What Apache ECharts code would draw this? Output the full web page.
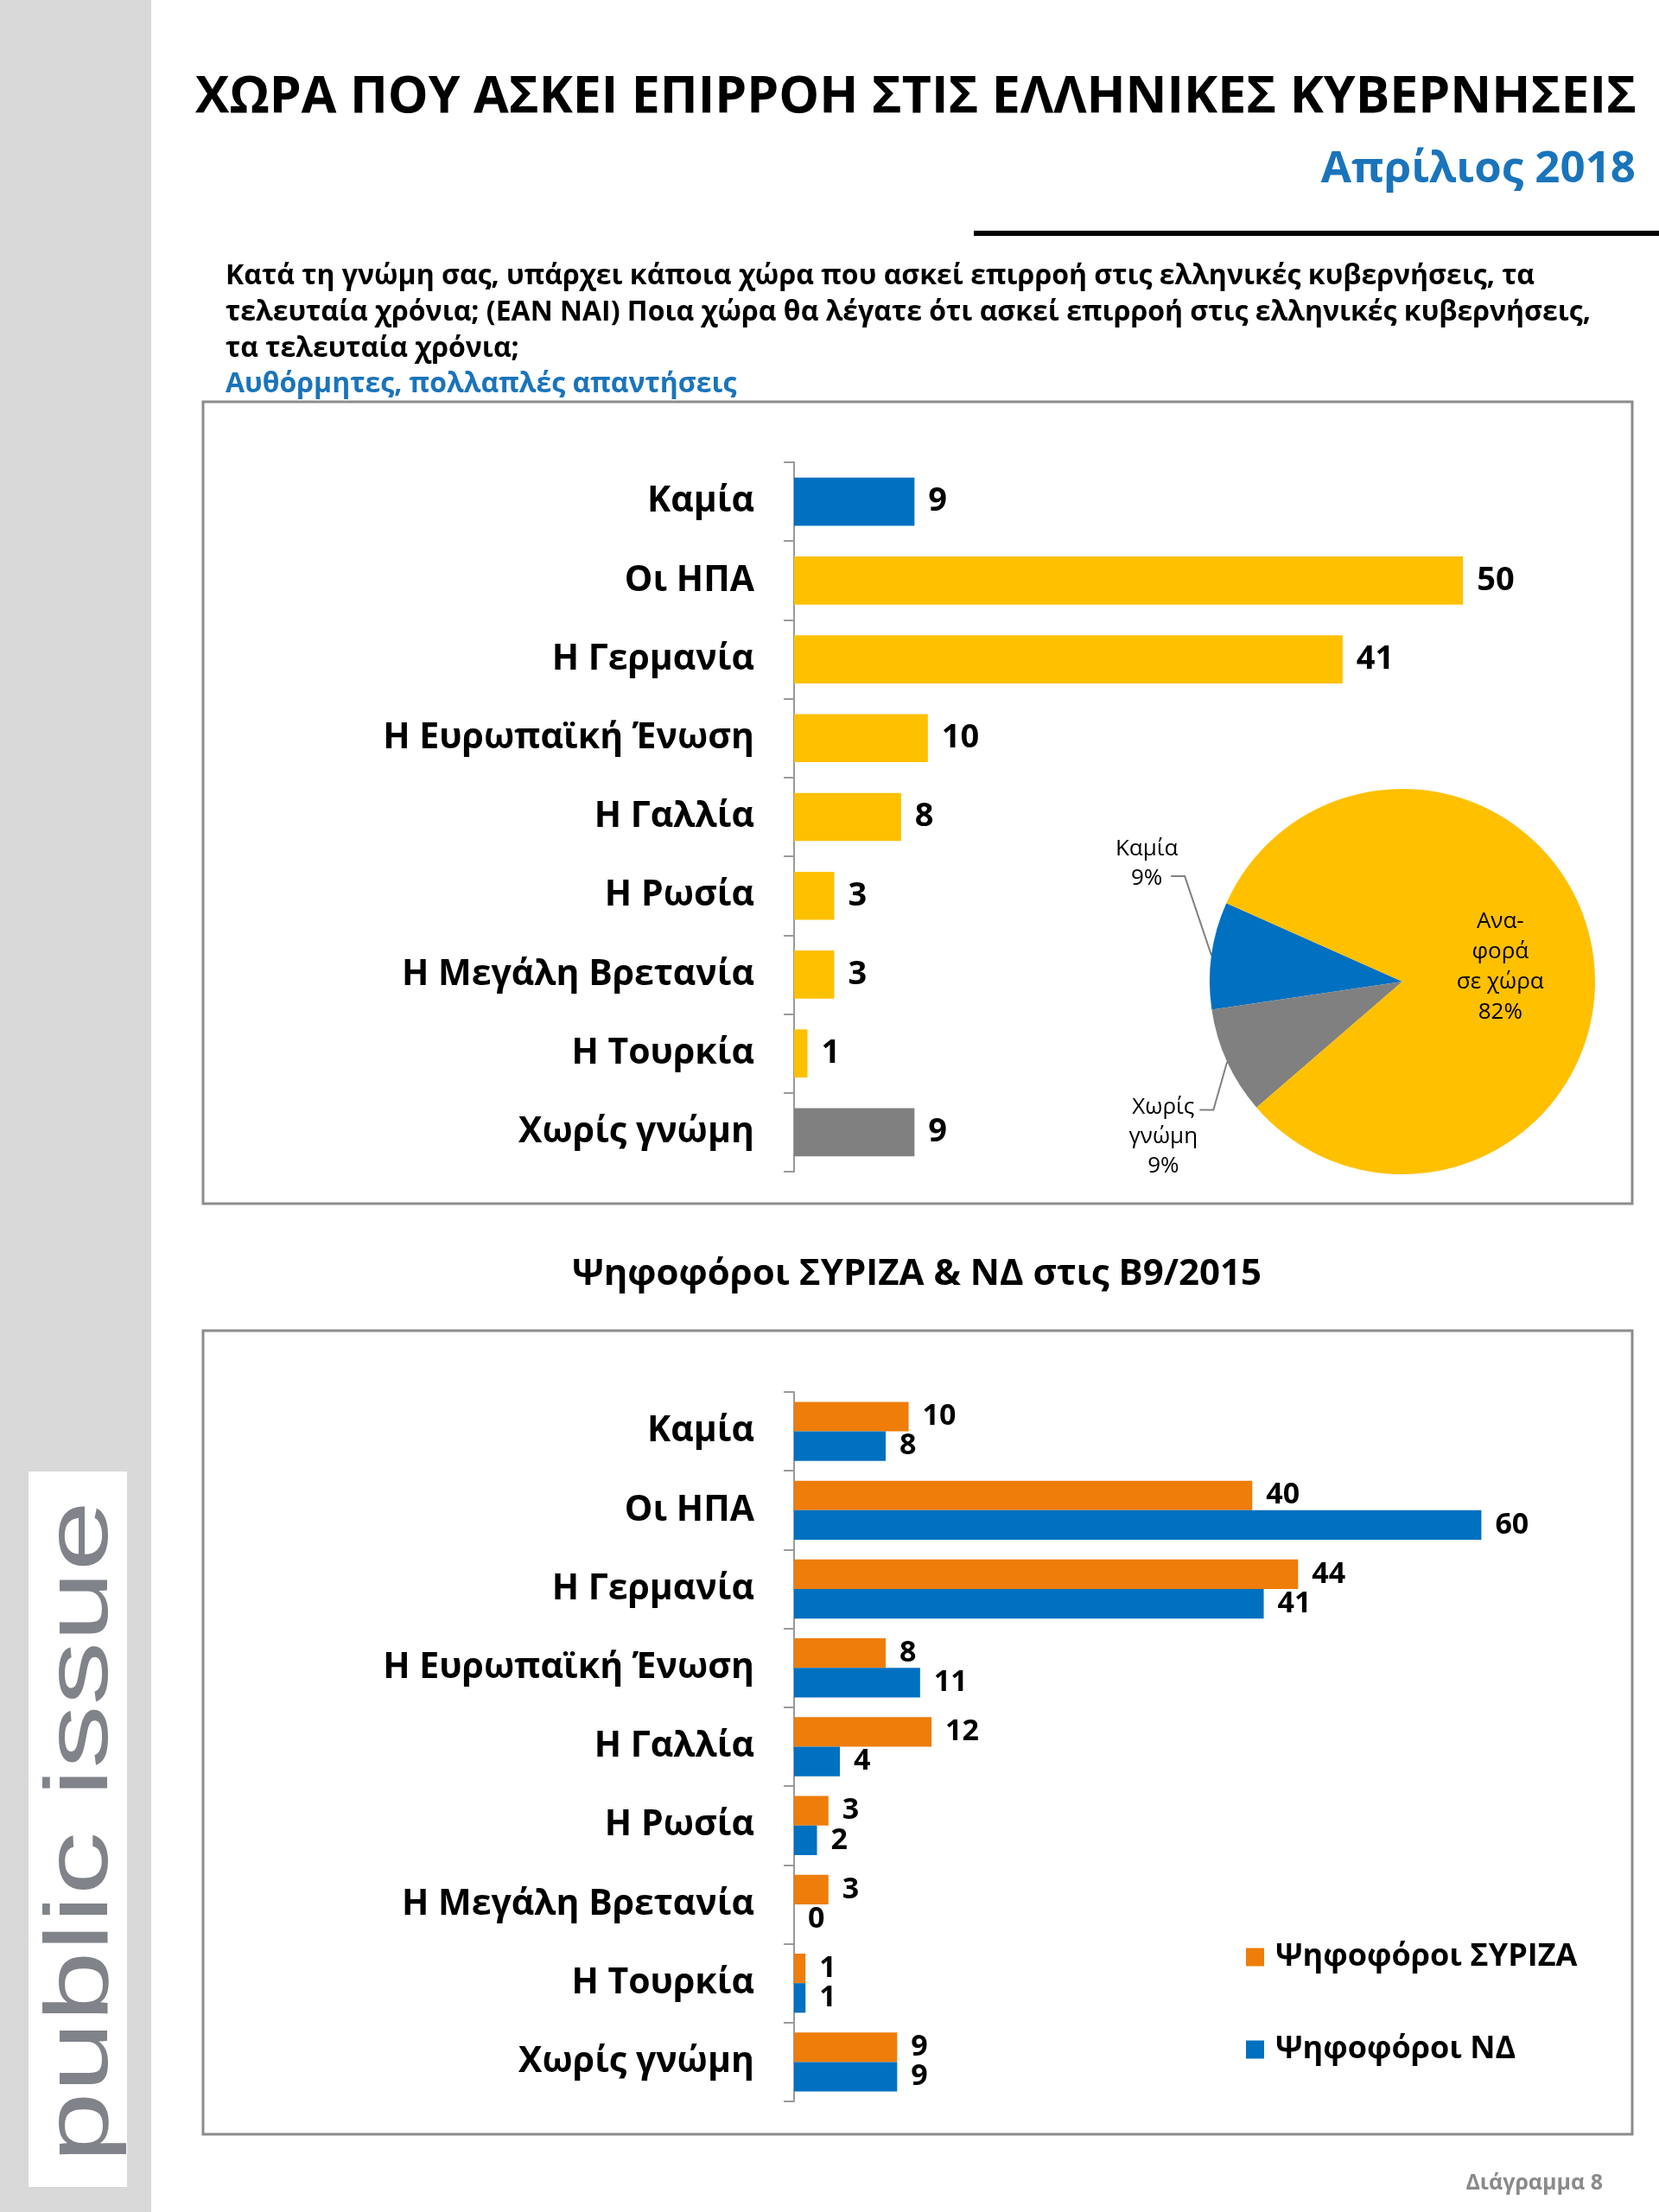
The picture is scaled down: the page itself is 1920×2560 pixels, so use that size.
<!DOCTYPE html>
<html><head><meta charset="utf-8">
<script src="https://cdn.jsdelivr.net/npm/echarts@6/dist/echarts.min.js"></script>
<style>html,body{margin:0;padding:0;background:#fff}#c{width:1920px;height:2560px}</style>
</head><body><div id="c"></div><script>
// ---- data ----
const categories = ['Καμία','Οι ΗΠΑ','Η Γερμανία','Η Ευρωπαϊκή Ένωση','Η Γαλλία','Η Ρωσία','Η Μεγάλη Βρετανία','Η Τουρκία','Χωρίς γνώμη'];
const totalValues = [9,50,41,10,8,3,3,1,9];
const pieNames = ['Καμία','Χωρίς γνώμη','Ανα-\nφορά\nσε χώρα'];
const pieValues = [9,9,82];
const seriesNames = ['Ψηφοφόροι ΣΥΡΙΖΑ','Ψηφοφόροι ΝΔ'];
const syrizaValues = [10,40,44,8,12,3,3,1,9];
const ndValues = [8,60,41,11,4,2,0,1,9];
const questionLines = [
  'Κατά τη γνώμη σας, υπάρχει κάποια χώρα που ασκεί επιρροή στις ελληνικές κυβερνήσεις, τα',
  'τελευταία χρόνια; (ΕΑΝ ΝΑΙ) Ποια χώρα θα λέγατε ότι ασκεί επιρροή στις ελληνικές κυβερνήσεις,',
  'τα τελευταία χρόνια;'
];

// ---- styles ----
const BLUE = '#0070c0', YELLOW = '#ffc000', GRAY = '#808080', ORANGE = '#ee7d0a';
const FONT = '"Open Sans", "Noto Sans", sans-serif';
const AXIS_GRAY = '#9a9a9a';

const chart = echarts.init(document.getElementById('c'), null, {renderer: 'canvas'});

function txt(x, y, text, size, opts) {
  opts = opts || {};
  return {
    type: 'text', x: x, y: y, z: 10,
    style: {
      text: text, fontSize: size, fontFamily: opts.family || FONT,
      fontWeight: opts.weight || 'bold', fill: opts.color || '#000',
      align: opts.align || 'left', verticalAlign: 'middle'
    }
  };
}

const graphics = [
  {type: 'rect', shape: {x: 0, y: 0, width: 175, height: 2560}, style: {fill: '#d9d9d9'}, z: 0},
  {type: 'rect', shape: {x: 33, y: 1703, width: 114, height: 828}, style: {fill: '#ffffff'}, z: 1},
  {type: 'text', x: 95, y: 2120, z: 10, rotation: Math.PI / 2, scaleX: 1.41,
   style: {text: 'public issue', fontSize: 104, fontFamily: '"Liberation Sans", Arial, sans-serif',
           fontWeight: 'normal', fill: '#808389', align: 'center', verticalAlign: 'middle'}},
  txt(1894, 113, 'ΧΩΡΑ ΠΟΥ ΑΣΚΕΙ ΕΠΙΡΡΟΗ ΣΤΙΣ ΕΛΛΗΝΙΚΕΣ ΚΥΒΕΡΝΗΣΕΙΣ', 59, {align: 'right'}),
  txt(1893, 196, 'Απρίλιος 2018', 51, {align: 'right', color: '#1a74bb'}),
  {type: 'rect', shape: {x: 1127, y: 267, width: 793, height: 6}, style: {fill: '#000'}, z: 5},
  txt(261, 320, questionLines[0], 32),
  txt(261, 362, questionLines[1], 32),
  txt(261, 404, questionLines[2], 32),
  txt(261, 445, 'Αυθόρμητες, πολλαπλές απαντήσεις', 32, {color: '#1a74bb'}),
  {type: 'rect', shape: {x: 235, y: 465, width: 1654, height: 928}, style: {fill: 'none', stroke: '#8c8c8c', lineWidth: 3}, z: 2},
  txt(1061, 1475, 'Ψηφοφόροι ΣΥΡΙΖΑ & ΝΔ στις Β9/2015', 42, {align: 'center'}),
  {type: 'rect', shape: {x: 235, y: 1540, width: 1654, height: 930}, style: {fill: 'none', stroke: '#8c8c8c', lineWidth: 3}, z: 2},
  txt(1855, 2527, 'Διάγραμμα 8', 25, {align: 'right', color: '#8a8a8a'})
];

const catAxisBase = {
  type: 'category', inverse: true, data: categories,
  axisLine: {show: true, lineStyle: {color: AXIS_GRAY, width: 2}},
  axisTick: {show: true, length: 12, lineStyle: {color: AXIS_GRAY, width: 2}},
  axisLabel: {fontSize: 41, fontWeight: 'bold', color: '#000', fontFamily: FONT, margin: 46}
};

const valueLabel = (size) => ({show: true, position: 'right', distance: 16, fontSize: size, fontWeight: 'bold', color: '#000', fontFamily: FONT});

// pie outside labels: moved above / below like the original, guide lines follow the moved label
function pieLabelLayout(p) {
  if (p.dataIndex > 1) return {};
  const dy = p.dataIndex === 0 ? -105 : 82;
  const r = p.labelRect;
  const cx = r.x + r.width / 2;
  const top = r.y + dy;
  const lineY = p.dataIndex === 0 ? top + r.height * 0.75 : top + r.height / 6;
  const half = p.dataIndex === 0 ? 26 : 40;
  const start = (p.labelLinePoints && p.labelLinePoints[0]) || [cx + half + 40, lineY];
  return {
    dy: dy,
    labelLinePoints: [start, [cx + half + 18, lineY], [cx + half + 2, lineY]]
  };
}

const option = {
  animation: false,
  backgroundColor: '#ffffff',
  graphic: graphics,
  grid: [
    {left: 919, top: 535, width: 929, height: 821, outerBoundsMode: 'none', containLabel: false},
    {left: 919, top: 1611, width: 928, height: 821, outerBoundsMode: 'none', containLabel: false}
  ],
  xAxis: [
    {type: 'value', gridIndex: 0, min: 0, max: 60, show: false},
    {type: 'value', gridIndex: 1, min: 0, max: 70, show: false}
  ],
  yAxis: [
    Object.assign({gridIndex: 0}, catAxisBase),
    Object.assign({gridIndex: 1}, catAxisBase)
  ],
  legend: {
    data: seriesNames, orient: 'vertical', left: 1437, top: 2240,
    icon: 'rect', itemWidth: 21, itemHeight: 21, itemGap: 67,
    textStyle: {fontSize: 36, fontWeight: 'bold', color: '#000', fontFamily: FONT, lineHeight: 40, padding: [0, 0, 0, 8]}
  },
  series: [
    {
      type: 'bar', xAxisIndex: 0, yAxisIndex: 0, data: totalValues,
      barCategoryGap: '39%',
      itemStyle: {color: (p) => p.dataIndex === 0 ? BLUE : (p.dataIndex === categories.length - 1 ? GRAY : YELLOW)},
      label: valueLabel(38)
    },
    {
      type: 'pie', center: [1623, 1136], radius: 223, clockwise: false, startAngle: 156,
      data: pieNames.map((n, i) => ({name: n, value: pieValues[i],
        itemStyle: {color: [BLUE, GRAY, YELLOW][i]},
        label: i === 2 ? {position: 'inside', formatter: '{b}\n{d}%', lineHeight: 35, align: 'center'} : {}
      })),
      label: {
        show: true, position: 'outside', fontSize: 26, color: '#000', fontFamily: FONT,
        formatter: (p) => p.name.split(' ').map(s => '{a|' + s + '}').join('\n') + '\n{a|' + p.percent + '%}',
        rich: {a: {width: 92, align: 'center', fontSize: 26, lineHeight: 34, fontFamily: FONT, color: '#000'}}
      },
      labelLine: {show: true, length: 12, length2: 12, lineStyle: {color: '#808080', width: 2}},
      labelLayout: pieLabelLayout
    },
    {
      name: seriesNames[0], type: 'bar', xAxisIndex: 1, yAxisIndex: 1, data: syrizaValues,
      barGap: '0%', barCategoryGap: '25%', itemStyle: {color: ORANGE}, label: valueLabel(34)
    },
    {
      name: seriesNames[1], type: 'bar', xAxisIndex: 1, yAxisIndex: 1, data: ndValues,
      barGap: '0%', barCategoryGap: '25%', itemStyle: {color: BLUE}, label: valueLabel(34)
    }
  ]
};
chart.setOption(option);
</script></body></html>
